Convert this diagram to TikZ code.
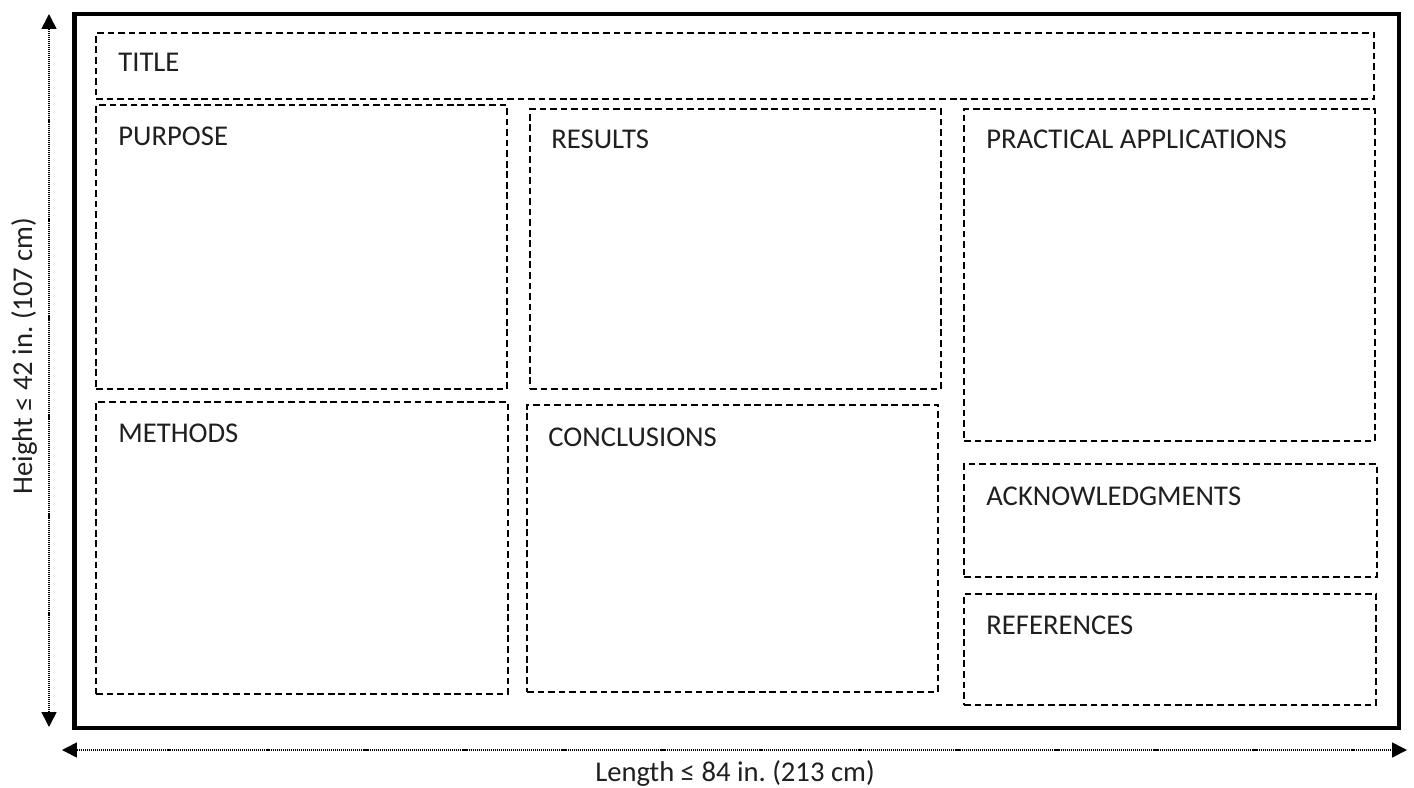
\documentclass[tikz,border=0pt]{standalone}
\usepackage{fontspec}
\setmainfont{Carlito}
\usetikzlibrary{arrows.meta,fit}
\frenchspacing
\begin{document}
\begin{tikzpicture}[x=0.02cm,y=-0.02cm,
  frame/.style={draw=black,line width=2.3pt},
  pbox/.style={draw=black,line width=1.2pt,dash pattern=on 3.8pt off 2.2pt,inner sep=0pt},
  lbl/.style={anchor=base west,inner sep=0pt,text=black!88,font=\fontsize{16.3}{19}\selectfont},
  dim/.style={line width=0.9pt,dash pattern=on 0.6pt off 0.55pt,{Triangle[length=8.5pt,width=8.5pt]}-{Triangle[length=8.5pt,width=8.5pt]}},
  dimlbl/.style={inner sep=0pt,text=black!88,font=\fontsize{16.3}{19}\selectfont}]
\useasboundingbox (0,0) rectangle (1414,788);
% outer frame
\node[frame,inner sep=0pt,fit={(74.5,14) (1399,728)}] (poster) {};
% sections
\node[pbox,fit={(96,33) (1374,99)}] (title) {};
\node[pbox,fit={(96,105) (507,389)}] (purpose) {};
\node[pbox,fit={(530,109) (941,389)}] (results) {};
\node[pbox,fit={(964,109) (1375,441)}] (practical) {};
\node[pbox,fit={(96,402) (508,694)}] (methods) {};
\node[pbox,fit={(527,405) (938,692)}] (conclusions) {};
\node[pbox,fit={(964,464) (1377,577)}] (ack) {};
\node[pbox,fit={(964,594) (1376,705)}] (refs) {};
% labels
\node[lbl] (titlel) at (118,71) {TITLE};
\node[lbl] (purposel) at (118,145) {PURPOSE};
\node[lbl] (resultsl) at (551,148) {RESULTS};
\node[lbl] (practicall) at (986,148) {PRACTICAL APPLICATIONS};
\node[lbl] (methodsl) at (118,442) {METHODS};
\node[lbl] (conclusionsl) at (548,446) {CONCLUSIONS};
\node[lbl] (ackl) at (986,505) {ACKNOWLEDGMENTS};
\node[lbl] (refsl) at (986,634) {REFERENCES};
% dimension arrows
\coordinate (vtop) at (49,14);
\coordinate (vbot) at (49,727);
\coordinate (hleft) at (62,750);
\coordinate (hright) at (1407,750);
\draw[dim] (vtop) -- (vbot);
\draw[dim] (hleft) -- (hright);
\node[dimlbl,rotate=90] (heightl) at (24,356) {Height ≤ 42 in. (107 cm)};
\node[dimlbl] (lengthl) at (735,773) {Length ≤ 84 in. (213 cm)};
\end{tikzpicture}
\end{document}
